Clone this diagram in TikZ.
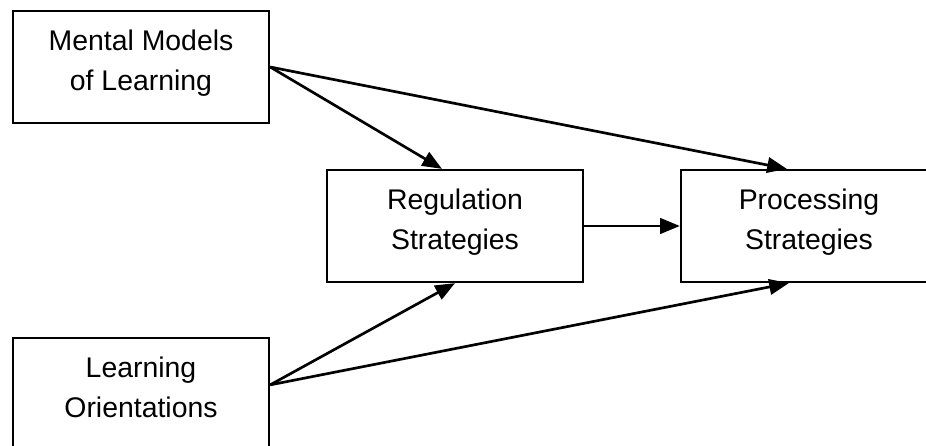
\documentclass[tikz,border=0pt]{standalone}
\usepackage{fontspec}
\setmainfont{Liberation Sans}
\usetikzlibrary{arrows.meta}
\tikzset{
  >={Triangle[length=14pt,width=11pt]},
  mbox/.style={draw=black, line width=1.6pt, minimum width=6.4cm,
               minimum height=2.8cm, inner sep=0pt, align=center,
               font=\fontsize{20.2}{28.6}\selectfont, text depth=10pt},
  mlink/.style={->, black, line width=1.9pt},
}

\begin{document}
\begin{tikzpicture}[x=0.025cm,y=-0.025cm]

  % ---- frame ----
  \useasboundingbox (0,0) rectangle (926,446);
  \clip (0,0) rectangle (926,446);

  % ---- boxes ----
  \node[mbox] (mental) at (141,67)  {Mental Models\\of Learning};
  \node[mbox] (orient) at (141,394) {Learning\\Orientations};
  \node[mbox] (reg)    at (455,226) {Regulation\\Strategies};
  \node[mbox] (proc)   at (809,226) {Processing\\Strategies};

  % ---- links ----
  \draw[mlink] (mental.east) -- ([xshift=-0.325cm]reg.north);
  \draw[mlink] (mental.east) -- ([xshift=2.675cm]proc.north west);
  \draw[mlink] ([yshift=-1.2cm]orient.north east) -- (reg.south);
  \draw[mlink] ([yshift=-1.2cm]orient.north east) -- ([xshift=2.725cm]proc.south west);
  \draw[mlink] (reg.east) -- (proc.west);

\end{tikzpicture}
\end{document}
